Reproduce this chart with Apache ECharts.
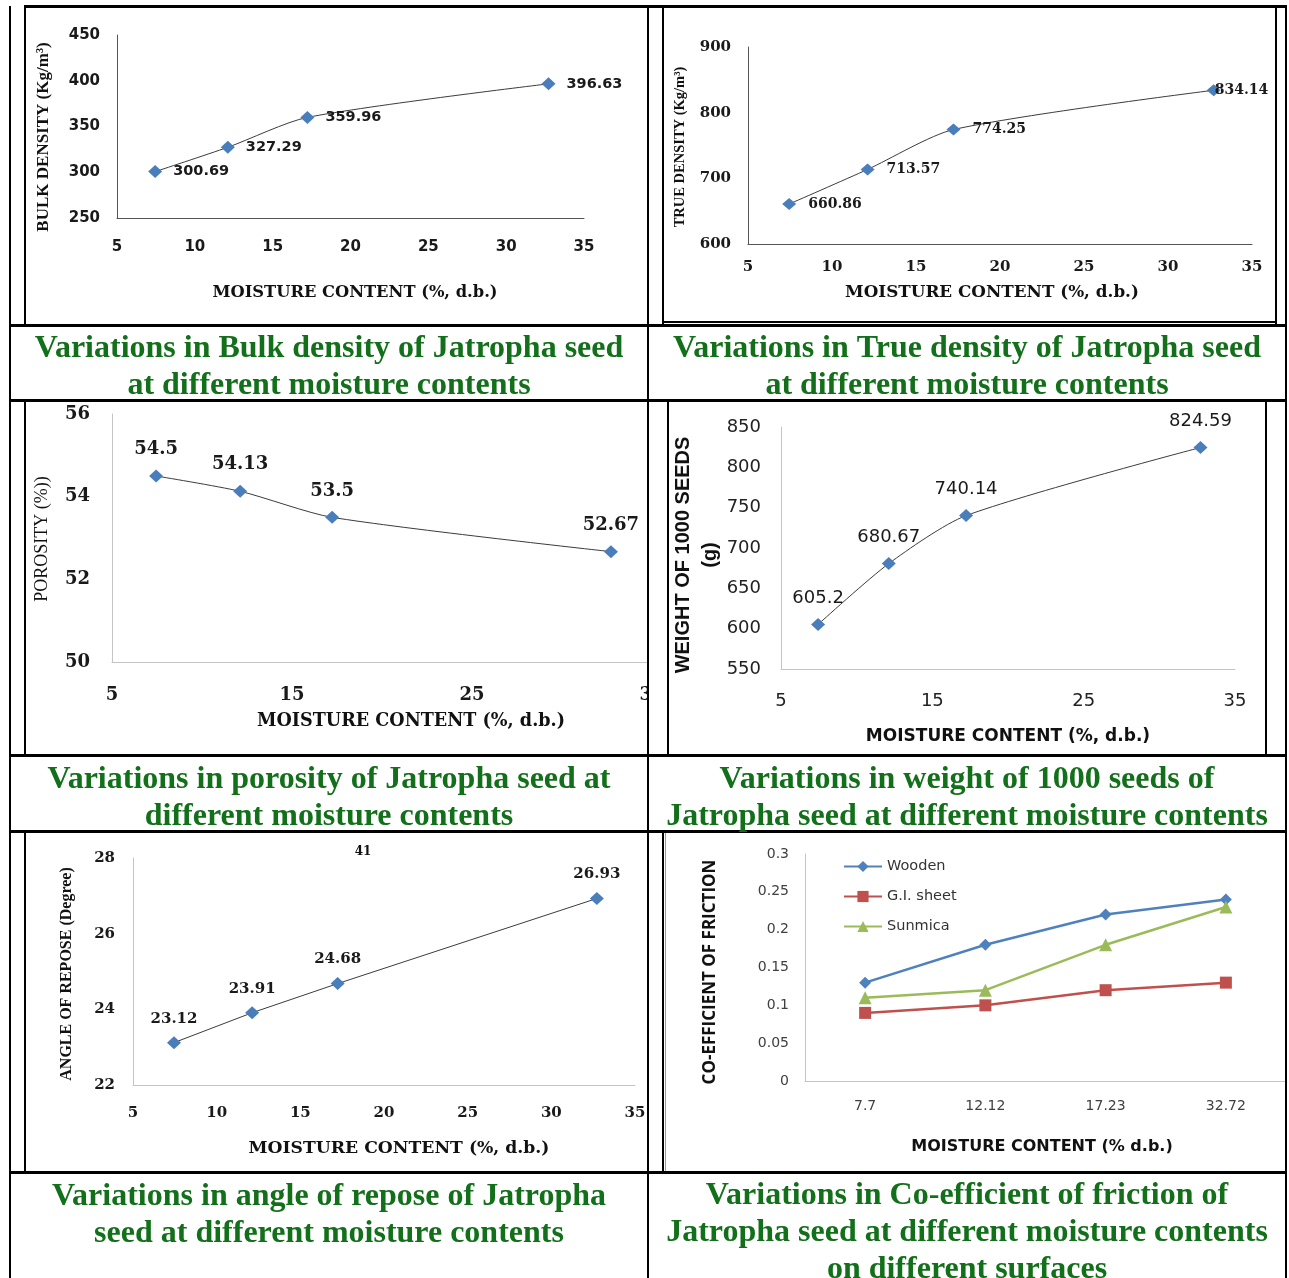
<!DOCTYPE html>
<html>
<head>
<meta charset="utf-8">
<script src="https://cdn.jsdelivr.net/npm/echarts@6/dist/echarts.min.js"></script>
<style>
html,body{margin:0;padding:0;background:#fff;}
#c{width:1289px;height:1278px;}
</style>
</head>
<body>
<div id="c"></div>
<script>
// ---------------- DATA ----------------
const moisture = [7.45, 12.12, 17.23, 32.72];
const bulkDensity = [300.69, 327.29, 359.96, 396.63];
const trueDensity = [660.86, 713.57, 774.25, 834.14];
const porosity = [54.5, 54.13, 53.5, 52.67];
const weight1000 = [605.2, 680.67, 740.14, 824.59];
const angleRepose = [23.12, 23.91, 24.68, 26.93];

const frictionCategories = ['7.7', '12.12', '17.23', '32.72'];
const frictionNames = ['Wooden', 'G.I. sheet', 'Sunmica'];
const wooden = [0.13, 0.18, 0.22, 0.24];
const giSheet = [0.09, 0.10, 0.12, 0.13];
const sunmica = [0.11, 0.12, 0.18, 0.23];

// tick labels
const xTicksBulk = [5, 10, 15, 20, 25, 30, 35];
const yTicksBulk = [250, 300, 350, 400, 450];
const xTicksTrue = [5, 10, 15, 20, 25, 30, 35];
const yTicksTrue = [600, 700, 800, 900];
const xTicksPor = [5, 15, 25, 35];
const yTicksPor = [50, 52, 54, 56];
const xTicksWt = [5, 15, 25, 35];
const yTicksWt = [550, 600, 650, 700, 750, 800, 850];
const xTicksAng = [5, 10, 15, 20, 25, 30, 35];
const yTicksAng = [22, 24, 26, 28];
const yTicksFric = [0, 0.05, 0.1, 0.15, 0.2, 0.25, 0.3];

// texts
const captions = [
  'Variations in Bulk density of Jatropha seed\nat different moisture contents',
  'Variations in True density of Jatropha seed\nat different moisture contents',
  'Variations in porosity of Jatropha seed at\ndifferent moisture contents',
  'Variations in weight of 1000 seeds of\nJatropha seed at different moisture contents',
  'Variations in angle of repose of Jatropha\nseed at different moisture contents',
  'Variations in Co-efficient of friction of\nJatropha seed at different moisture contents\non different surfaces'
];
const xNameMC = 'MOISTURE CONTENT (%, d.b.)';
const xNameFric = 'MOISTURE CONTENT (% d.b.)';
const yNames = ['BULK DENSITY (Kg/m\u00B3)', 'TRUE DENSITY (Kg/m\u00B3)', 'POROSITY (%))',
  'WEIGHT OF 1000 SEEDS\n(g)', 'ANGLE OF REPOSE (Degree)', 'CO-EFFICIENT OF FRICTION'];
const pageNumber = '41';

// ---------------- HELPERS ----------------
const SANS = 'DejaVu Sans';
const SERIF = 'DejaVu Serif';
const TIMES = 'Liberation Serif';
const GREEN = '#13701a';
const MARK = '#4a7ebb';

function rng(t) { return { min: t[0], max: t[t.length - 1], interval: t[1] - t[0] }; }

function valAxis(idx, ticks, o) {
  return Object.assign({
    type: 'value', gridIndex: idx,
    splitLine: { show: false }, axisTick: { show: false },
    axisLine: { show: true, onZero: false, lineStyle: { color: o.lineColor, width: 1 } },
    axisLabel: { margin: o.margin, fontFamily: o.font, fontSize: o.size, fontWeight: o.weight, color: o.color || '#1a1a1a' }
  }, rng(ticks));
}

function scatterLine(idx, yVals, o) {
  return {
    type: 'line', xAxisIndex: idx, yAxisIndex: idx,
    data: moisture.map((x, i) => {
      const item = { value: [x, yVals[i]] };
      if (o.itemLabel && o.itemLabel[i]) item.label = o.itemLabel[i];
      return item;
    }),
    smooth: o.smooth,
    symbol: 'diamond', symbolSize: o.sym,
    itemStyle: { color: MARK },
    lineStyle: { color: '#3c3c3c', width: 1 },
    label: {
      show: true, position: o.pos, distance: o.dist,
      formatter: p => String(p.value[1]),
      fontFamily: o.font, fontSize: o.size, fontWeight: o.weight, color: '#1a1a1a'
    },
    emphasis: { disabled: true },
    z: 3
  };
}

function txt(x, y, text, font, size, weight, o) {
  o = o || {};
  return {
    type: 'text', x: x, y: y, rotation: o.rot || 0, z: 100, silent: true,
    style: {
      text: text, fontFamily: font, fontSize: size, fontWeight: weight,
      fill: o.fill || '#111', align: 'center', verticalAlign: 'middle',
      textAlign: 'center', textVerticalAlign: 'middle', lineHeight: o.lh || size * 1.2
    }
  };
}
function rect(x, y, w, h, fill, z) {
  return { type: 'rect', shape: { x: x, y: y, width: w, height: h }, style: { fill: fill }, z: z || 100, silent: true };
}

// ---------------- LAYOUT ----------------
const grids = [
  { left: 117, top: 35, width: 467, height: 183 },
  { left: 748, top: 47, width: 504, height: 197 },
  { left: 112, top: 414, width: 540, height: 248 },
  { left: 781, top: 427, width: 454, height: 242 },
  { left: 133, top: 858, width: 502, height: 227 },
  { left: 805, top: 854, width: 481, height: 227 }
].map(g => Object.assign({ containLabel: false, outerBoundsMode: 'none' }, g));

const xAxes = [
  valAxis(0, xTicksBulk, { lineColor: '#555', margin: 22, font: SANS, size: 15, weight: 'bold' }),
  valAxis(1, xTicksTrue, { lineColor: '#555', margin: 16, font: SERIF, size: 15, weight: 'bold' }),
  valAxis(2, xTicksPor, { lineColor: '#c4c4c4', margin: 24, font: SERIF, size: 18, weight: 'bold' }),
  valAxis(3, xTicksWt, { lineColor: '#c4c4c4', margin: 23, font: SANS, size: 18, weight: 'normal', color: '#222' }),
  valAxis(4, xTicksAng, { lineColor: '#c4c4c4', margin: 21, font: SERIF, size: 15, weight: 'bold' }),
  {
    type: 'category', gridIndex: 5, data: frictionCategories, boundaryGap: true,
    axisTick: { show: false },
    axisLine: { lineStyle: { color: '#c4c4c4' } },
    axisLabel: { margin: 18, fontFamily: SANS, fontSize: 14, color: '#404040' }
  }
];
const yAxes = [
  valAxis(0, yTicksBulk, { lineColor: '#555', margin: 17, font: SANS, size: 15, weight: 'bold' }),
  valAxis(1, yTicksTrue, { lineColor: '#555', margin: 17, font: SERIF, size: 15, weight: 'bold' }),
  valAxis(2, yTicksPor, { lineColor: '#c4c4c4', margin: 22, font: SERIF, size: 18, weight: 'bold' }),
  valAxis(3, yTicksWt, { lineColor: '#c4c4c4', margin: 20, font: SANS, size: 18, weight: 'normal', color: '#222' }),
  valAxis(4, yTicksAng, { lineColor: '#c4c4c4', margin: 18, font: SERIF, size: 15, weight: 'bold' }),
  valAxis(5, yTicksFric, { lineColor: '#c4c4c4', margin: 16, font: SANS, size: 14, weight: 'normal', color: '#404040' })
];

const series = [
  scatterLine(0, bulkDensity, { smooth: 0.25, sym: [14, 13], pos: 'right', dist: 11, font: SANS, size: 14.5, weight: 'bold' }),
  scatterLine(1, trueDensity, { smooth: 0.25, sym: [14, 12], pos: 'right', dist: 12, font: SERIF, size: 14, weight: 'bold',
    itemLabel: { 3: { offset: [-18, 0] } } }),
  scatterLine(2, porosity, { smooth: 0.25, sym: [14, 13], pos: 'top', dist: 11, font: SERIF, size: 18, weight: 'bold' }),
  scatterLine(3, weight1000, { smooth: 0.25, sym: [14, 13], pos: 'top', dist: 11, font: SANS, size: 18, weight: 'normal' }),
  scatterLine(4, angleRepose, { smooth: false, sym: [14, 13], pos: 'top', dist: 10, font: SERIF, size: 15, weight: 'bold' })
];
const fricData = [wooden, giSheet, sunmica];
const fricColors = ['#4f81bd', '#c0504d', '#9bbb59'];
const fricSymbols = ['diamond', 'rect', 'triangle'];
const fricSizes = [12, 12, 13];
fricData.forEach((d, k) => {
  series.push({
    name: frictionNames[k], type: 'line', xAxisIndex: 5, yAxisIndex: 5, data: d,
    symbol: fricSymbols[k], symbolSize: fricSizes[k],
    itemStyle: { color: fricColors[k] }, lineStyle: { color: fricColors[k], width: 2.5 },
    emphasis: { disabled: true }, z: 3 + k
  });
});

// ---------------- GRAPHICS (borders, names, captions) ----------------
const borderRects = [
  [24, 5, 1263, 3], [9, 324, 1278, 3], [9, 399, 1278, 3], [9, 754, 1278, 3], [9, 830, 1278, 3], [9, 1171, 1278, 3],
  [9, 6, 2, 1272], [647, 5, 2, 1273], [1285, 5, 2, 1273],
  [24, 5, 2, 321], [24, 400, 2, 356], [24, 831, 2, 342],
  [662, 5, 2, 319], [1275, 5, 2, 319], [662, 321, 615, 2],
  [667, 400, 2, 356], [1265, 400, 2, 356],
  [662, 831, 2, 342]
];
const graphics = [];
graphics.push(rect(649, 640, 18, 80, '#fff', 99));
borderRects.forEach(r => graphics.push(rect(r[0], r[1], r[2], r[3], '#000', 100)));
graphics.push(rect(665, 833, 1, 338, '#9a9a9a', 100));

const R90 = Math.PI / 2;
// axis names
graphics.push(txt(44, 137, yNames[0], TIMES, 17, 'bold', { rot: R90 }));
graphics.push(txt(355, 293, xNameMC, SERIF, 16.3, 'bold'));
graphics.push(txt(680, 147, yNames[1], TIMES, 14.5, 'bold', { rot: R90 }));
graphics.push(txt(992, 293, xNameMC, SERIF, 16.8, 'bold'));
graphics.push(txt(42, 539, yNames[2], TIMES, 18, 'normal', { rot: R90 }));
graphics.push(txt(411, 721, xNameMC, SERIF, 17.6, 'bold'));
graphics.push(txt(697, 555, yNames[3], 'Liberation Sans', 20, 'bold', { rot: R90, lh: 27 }));
graphics.push(txt(1008, 737, xNameMC, SANS, 17, 'bold'));
graphics.push(txt(67, 974, yNames[4], TIMES, 16, 'bold', { rot: R90 }));
graphics.push(txt(399, 1149, xNameMC, SERIF, 17.2, 'bold'));
graphics.push(txt(710, 972, yNames[5], 'Open Sans', 17, 'bold', { rot: R90 }));
graphics.push(txt(1042, 1147, xNameFric, SANS, 16, 'bold'));
graphics.push(txt(363, 852, pageNumber, SERIF, 12, 'bold'));

// captions
const capPos = [[329, 367], [967, 367], [329, 798], [967, 798], [329, 1215], [967, 1233]];
captions.forEach((c, i) => {
  graphics.push(txt(capPos[i][0], capPos[i][1], c, TIMES, 32, 'bold', { fill: GREEN, lh: 37 }));
});

const option = {
  animation: false,
  backgroundColor: '#fff',
  grid: grids,
  xAxis: xAxes,
  yAxis: yAxes,
  legend: {
    data: frictionNames, orient: 'vertical', left: 843, top: 859,
    itemWidth: 38, itemHeight: 14, itemGap: 15, padding: 0,
    textStyle: { fontFamily: SANS, fontSize: 14.5, color: '#333', lineHeight: 14 }
  },
  series: series,
  graphic: { elements: graphics }
};

const chart = echarts.init(document.getElementById('c'), null, { renderer: 'canvas' });
chart.setOption(option);
</script>
</body>
</html>
